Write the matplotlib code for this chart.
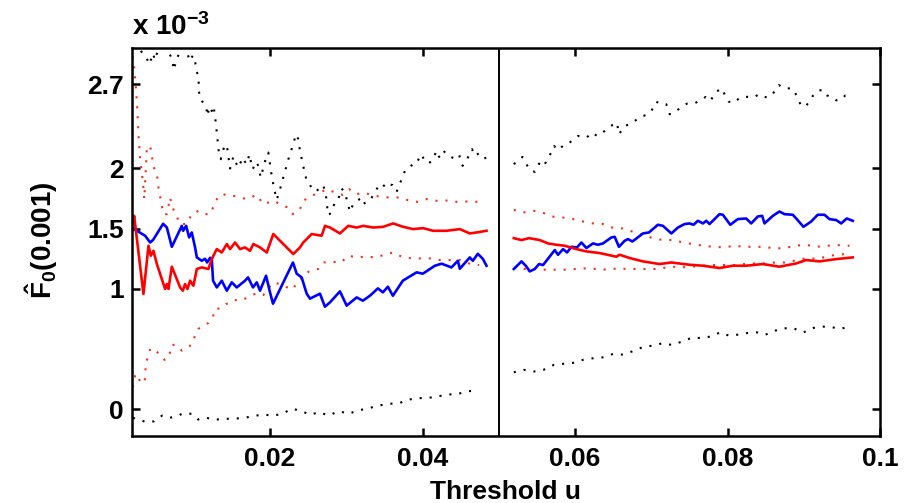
import numpy as np
import matplotlib
matplotlib.use("Agg")
import matplotlib.pyplot as plt

plt.rcParams["font.family"] = ["Liberation Sans", "DejaVu Sans"]
plt.rcParams["font.weight"] = "bold"
plt.rcParams["mathtext.fontset"] = "custom"
plt.rcParams["mathtext.rm"] = "Liberation Sans:bold"
plt.rcParams["mathtext.bf"] = "Liberation Sans:bold"
plt.rcParams["mathtext.it"] = "Liberation Sans:bold"

# all estimates are in units of 1e-3
# --- thresholds below 0.05 ---
blue_u_a = [0.00201, 0.00254, 0.00362, 0.00428, 0.00467, 0.00598, 0.00647, 0.00712, 0.00843, 0.0086,
            0.0090, 0.00939, 0.00974, 0.01017, 0.0104, 0.01105, 0.01148, 0.01175, 0.01214, 0.01236,
            0.01253, 0.01302, 0.01367, 0.01433, 0.01498, 0.01564, 0.01672, 0.01712, 0.01777, 0.01826,
            0.01869, 0.01948, 0.0200, 0.02039, 0.02301, 0.0235, 0.02415, 0.02481, 0.02524, 0.02655,
            0.0272, 0.02786, 0.02917, 0.03005, 0.03136, 0.03218, 0.0331, 0.03415, 0.0348, 0.03546,
            0.03611, 0.03742, 0.03922, 0.04004, 0.04162, 0.0425, 0.0438, 0.04463, 0.04489, 0.0462,
            0.0466, 0.04725, 0.0479, 0.04839]
blue_f_a = [1.510, 1.483, 1.442, 1.386, 1.408, 1.541, 1.510, 1.350, 1.524, 1.483,
            1.524, 1.428, 1.469, 1.345, 1.262, 1.234, 1.251, 1.220, 1.259, 1.251,
            1.069, 1.013, 1.069, 0.986, 1.055, 1.013, 1.069, 1.096, 1.013, 1.055,
            0.986, 1.110, 0.972, 0.878, 1.220, 1.127, 1.096, 0.961, 0.920, 0.961,
            0.853, 0.889, 0.980, 0.862, 0.930, 0.903, 0.944, 1.005, 0.972, 1.019,
            0.944, 1.069, 1.138, 1.127, 1.193, 1.210, 1.179, 1.234, 1.168, 1.262,
            1.234, 1.292, 1.251, 1.193]

red_u_a = [0.0020, 0.00218, 0.0034, 0.00406, 0.00437, 0.00471, 0.00516, 0.00624, 0.00647, 0.00668,
           0.00712, 0.00821, 0.00856, 0.00886, 0.00917, 0.00952, 0.00995, 0.0104, 0.01105, 0.01192,
           0.01236, 0.01279, 0.01302, 0.01367, 0.01433, 0.01476, 0.01541, 0.01607, 0.01672, 0.01738,
           0.01781, 0.01869, 0.01957, 0.02043, 0.02305, 0.02393, 0.02436, 0.02546, 0.02677, 0.02721,
           0.02786, 0.02917, 0.03026, 0.03136, 0.03222, 0.03353, 0.03484, 0.03615, 0.03746, 0.03877,
           0.04008, 0.04139, 0.04315, 0.04489, 0.0462, 0.04708, 0.04839]
red_f_a = [1.539, 1.607, 0.959, 1.359, 1.276, 1.317, 1.207, 1.0, 1.041, 1.0,
           1.185, 1.013, 0.986, 1.041, 1.0, 1.069, 1.027, 1.166, 1.179, 1.166,
           1.248, 1.303, 1.331, 1.303, 1.373, 1.331, 1.386, 1.331, 1.345, 1.317,
           1.373, 1.345, 1.303, 1.456, 1.29, 1.345, 1.386, 1.456, 1.442, 1.524,
           1.51, 1.461, 1.524, 1.51, 1.524, 1.51, 1.516, 1.544, 1.516, 1.497,
           1.505, 1.483, 1.483, 1.497, 1.461, 1.469, 1.483]

redhi_u_a = [0.0020, 0.00212, 0.00234, 0.00256, 0.00277, 0.00299, 0.00334, 0.00351, 0.00385, 0.00428,
             0.00451, 0.00471, 0.00516, 0.00537, 0.00602, 0.00647, 0.0069, 0.00712, 0.00821, 0.00908,
             0.00974, 0.01061, 0.01148, 0.01214, 0.01323, 0.01433, 0.01519, 0.01695, 0.01826, 0.01912,
             0.02043, 0.02231, 0.02297, 0.02393, 0.02436, 0.02546, 0.02751, 0.02852, 0.02953, 0.0304,
             0.03136, 0.03232, 0.03333, 0.03451, 0.03563, 0.03681, 0.03812, 0.03935, 0.04053, 0.04175,
             0.04284, 0.04424, 0.04546, 0.04668, 0.04799]
redhi_f_a = [2.93, 2.864, 2.726, 2.533, 2.256, 2.063, 1.883, 1.746, 2.173, 2.187,
             2.104, 2.016, 1.953, 1.842, 1.621, 1.621, 1.759, 1.69, 1.539, 1.539,
             1.621, 1.649, 1.621, 1.621, 1.773, 1.787, 1.773, 1.746, 1.781, 1.704,
             1.732, 1.676, 1.621, 1.663, 1.732, 1.773, 1.828, 1.8, 1.781, 1.828,
             1.787, 1.8, 1.779, 1.765, 1.759, 1.759, 1.737, 1.723, 1.746, 1.732,
             1.737, 1.723, 1.726, 1.726, 1.718]

redlo_u_a = [0.0020, 0.00234, 0.00321, 0.00362, 0.00371, 0.00406, 0.00428, 0.0048, 0.00537, 0.00615,
             0.00681, 0.00699, 0.00751, 0.00843, 0.00908, 0.00974, 0.01017, 0.01061, 0.01126, 0.01192,
             0.01249, 0.01279, 0.01354, 0.01424, 0.01498, 0.01572, 0.01663, 0.01729, 0.01817, 0.01912,
             0.01978, 0.02043, 0.02153, 0.02284, 0.0235, 0.02436, 0.02524, 0.02633, 0.02698, 0.02808,
             0.0293, 0.03026, 0.03149, 0.03258, 0.03376, 0.03494, 0.03615, 0.03746, 0.0387, 0.03987,
             0.04118, 0.04227, 0.04358, 0.04498, 0.04629, 0.04742]
redlo_f_a = [0.185, 0.296, 0.213, 0.254, 0.384, 0.447, 0.503, 0.503, 0.466, 0.412,
             0.439, 0.53, 0.539, 0.489, 0.511, 0.539, 0.613, 0.669, 0.696, 0.718,
             0.765, 0.834, 0.839, 0.876, 0.884, 0.917, 0.917, 0.936, 0.964, 0.950,
             1.005, 1.055, 1.036, 0.994, 1.041, 1.110, 1.152, 1.166, 1.220, 1.226,
             1.220, 1.276, 1.262, 1.270, 1.262, 1.282, 1.303, 1.262, 1.254, 1.254,
             1.254, 1.240, 1.240, 1.240, 1.207, 1.199]

blkhi_u_a = [0.0020, 0.0025, 0.00297, 0.00385, 0.00419, 0.00463, 0.00493, 0.0058, 0.00725, 0.00733,
             0.00778, 0.0086, 0.00952, 0.00987, 0.01017, 0.01031, 0.01061, 0.01066, 0.01074, 0.01105,
             0.01135, 0.01162, 0.01179, 0.01205, 0.01236, 0.01257, 0.01279, 0.01293, 0.0131, 0.01323,
             0.01336, 0.01354, 0.01401, 0.01433, 0.01454, 0.01476, 0.01519, 0.01555, 0.01585, 0.01642,
             0.01672, 0.01695, 0.01729, 0.01747, 0.01773, 0.01817, 0.01847, 0.01878, 0.01912, 0.01948,
             0.01978, 0.0200, 0.02022, 0.02043, 0.02066, 0.02088, 0.02131, 0.02174, 0.0221, 0.02253,
             0.02297, 0.02341, 0.02371, 0.02393, 0.02415, 0.02445, 0.02481, 0.02524, 0.02559, 0.02603,
             0.02646, 0.02698, 0.02734, 0.02751, 0.02764, 0.02808, 0.02852, 0.02895, 0.02939, 0.02983,
             0.03013, 0.03048, 0.03091, 0.03144, 0.03188, 0.03214, 0.03258, 0.0331, 0.03353, 0.03419,
             0.03463, 0.0352, 0.03563, 0.03607, 0.0366, 0.03712, 0.03769, 0.03821, 0.0387, 0.03922,
             0.03978, 0.04021, 0.04074, 0.04126, 0.04184, 0.04218, 0.0427, 0.04323, 0.04371, 0.04424,
             0.0448, 0.04525, 0.0459, 0.0465, 0.04686, 0.04742, 0.04795, 0.04839]
blkhi_f_a = [3.30, 3.12, 2.983, 2.911, 2.864, 2.955, 2.90, 3.10, 2.891, 2.817,
             2.906, 3.05, 2.891, 2.939, 2.90, 2.809, 2.773, 2.684, 2.587, 2.56,
             2.541, 2.513, 2.436, 2.513, 2.477, 2.519, 2.442, 2.347, 2.256, 2.160,
             2.118, 2.077, 2.187, 2.196, 2.099, 1.999, 2.099, 2.044, 2.007, 2.090,
             2.055, 2.036, 2.118, 2.063, 1.994, 2.055, 2.022, 1.925, 2.007, 2.090,
             2.132, 2.036, 1.939, 1.870, 1.800, 1.740, 1.828, 1.925, 2.007, 2.104,
             2.187, 2.284, 2.243, 2.146, 2.082, 1.994, 1.897, 1.862, 1.828, 1.809,
             1.834, 1.862, 1.773, 1.676, 1.613, 1.635, 1.726, 1.746, 1.834, 1.800,
             1.726, 1.640, 1.704, 1.732, 1.751, 1.704, 1.718, 1.732, 1.779, 1.850,
             1.875, 1.842, 1.870, 1.862, 1.806, 1.889, 1.980, 1.999, 2.036, 2.041,
             2.118, 2.077, 2.041, 2.063, 2.146, 2.096, 2.152, 2.110, 2.096, 2.082,
             2.113, 2.022, 2.085, 2.160, 2.104, 2.127, 2.118, 2.069]

blklo_u_a = [0.00203, 0.00281, 0.00378, 0.00474, 0.00588, 0.00684, 0.00763, 0.00868, 0.00969, 0.01055,
             0.01166, 0.01279, 0.01397, 0.01519, 0.01663, 0.01781, 0.01912, 0.02035, 0.02157, 0.02288,
             0.02406, 0.02524, 0.02646, 0.02764, 0.02908, 0.03026, 0.03157, 0.03297, 0.03428, 0.03559,
             0.0369, 0.03826, 0.03953, 0.04084, 0.04206, 0.04337, 0.04468, 0.04599, 0.04722]
blklo_f_a = [-0.069, -0.085, -0.105, -0.099, -0.050, -0.069, -0.058, -0.031, -0.036, -0.083,
             -0.069, -0.085, -0.077, -0.077, -0.069, -0.055, -0.041, -0.052, -0.036, 0.006,
             -0.011, -0.044, -0.022, -0.050, -0.014, -0.036, -0.008, 0.011, 0.033, 0.047,
             0.052, 0.083, 0.094, 0.097, 0.110, 0.124, 0.130, 0.152, 0.157]

# --- thresholds above 0.05 ---
blue_u_b = [0.05197, 0.05298, 0.05354, 0.05406, 0.05472, 0.05528, 0.05581, 0.05734, 0.05777, 0.05843,
            0.05895, 0.05953, 0.06026, 0.06084, 0.06149, 0.06236, 0.06301, 0.06367, 0.06477, 0.0652,
            0.06576, 0.06651, 0.06694, 0.06752, 0.06804, 0.06891, 0.06969, 0.07087, 0.07153, 0.07263,
            0.0735, 0.07437, 0.07502, 0.07555, 0.07611, 0.07677, 0.07721, 0.07764, 0.07895, 0.07939,
            0.08036, 0.08135, 0.08245, 0.0831, 0.08397, 0.08455, 0.08485, 0.08594, 0.08681, 0.08747,
            0.08856, 0.08908, 0.08996, 0.09097, 0.09183, 0.09271, 0.09337, 0.09425, 0.0949, 0.09564,
            0.09642]
blue_f_b = [1.166, 1.229, 1.193, 1.146, 1.166, 1.207, 1.199, 1.323, 1.284, 1.331,
            1.303, 1.350, 1.345, 1.386, 1.340, 1.378, 1.367, 1.378, 1.428, 1.433,
            1.350, 1.400, 1.414, 1.394, 1.419, 1.461, 1.469, 1.533, 1.524, 1.461,
            1.510, 1.539, 1.544, 1.533, 1.566, 1.544, 1.566, 1.539, 1.621, 1.616,
            1.533, 1.580, 1.585, 1.544, 1.602, 1.607, 1.544, 1.607, 1.643, 1.621,
            1.616, 1.580, 1.516, 1.560, 1.616, 1.616, 1.580, 1.572, 1.544, 1.585,
            1.566]

red_u_b = [0.05197, 0.05298, 0.05397, 0.05537, 0.05646, 0.05756, 0.05865, 0.06018, 0.06149, 0.06323,
           0.06542, 0.06585, 0.06716, 0.06891, 0.07109, 0.07263, 0.07502, 0.07677, 0.07895, 0.0807,
           0.08245, 0.08463, 0.08681, 0.089, 0.09031, 0.09206, 0.09425, 0.09642]
red_f_b = [1.422, 1.406, 1.422, 1.406, 1.378, 1.367, 1.359, 1.331, 1.312, 1.298,
           1.268, 1.284, 1.257, 1.229, 1.207, 1.220, 1.201, 1.193, 1.174, 1.193,
           1.193, 1.207, 1.185, 1.212, 1.240, 1.229, 1.248, 1.262]

redhi_u_b = [0.05197, 0.05319, 0.05459, 0.0559, 0.05721, 0.05843, 0.05974, 0.06105, 0.06236, 0.06367,
             0.06507, 0.06629, 0.0676, 0.06891, 0.07022, 0.07153, 0.07284, 0.07415, 0.07546, 0.07677,
             0.07817, 0.07952, 0.08092, 0.08223, 0.08354, 0.08485, 0.08616, 0.08756, 0.08891, 0.09031,
             0.09162, 0.09307, 0.09446, 0.09599]
redhi_f_b = [1.657, 1.635, 1.649, 1.630, 1.599, 1.593, 1.580, 1.560, 1.544, 1.539,
             1.505, 1.502, 1.475, 1.447, 1.422, 1.406, 1.406, 1.386, 1.373, 1.359,
             1.350, 1.345, 1.359, 1.350, 1.350, 1.350, 1.336, 1.340, 1.359, 1.367,
             1.350, 1.359, 1.364, 1.359]

redlo_u_b = [0.05197, 0.05319, 0.05472, 0.05603, 0.05734, 0.05865, 0.06009, 0.0614, 0.0628, 0.06419,
             0.06555, 0.06694, 0.06825, 0.06969, 0.07109, 0.07241, 0.07385, 0.07525, 0.07664, 0.07808,
             0.07939, 0.08092, 0.08223, 0.08354, 0.08485, 0.08625, 0.08769, 0.08908, 0.09052, 0.09183,
             0.09328, 0.09468, 0.09612]
redlo_f_b = [1.179, 1.166, 1.166, 1.160, 1.160, 1.160, 1.166, 1.171, 1.166, 1.160,
             1.171, 1.166, 1.166, 1.166, 1.166, 1.187, 1.179, 1.185, 1.193, 1.199,
             1.199, 1.199, 1.207, 1.212, 1.212, 1.220, 1.220, 1.240, 1.257, 1.248,
             1.276, 1.284, 1.298]

blkhi_u_b = [0.05197, 0.05311, 0.05363, 0.05406, 0.05472, 0.05528, 0.05581, 0.05659, 0.05725, 0.05777,
             0.05865, 0.0593, 0.06039, 0.06149, 0.06228, 0.06288, 0.06359, 0.06419, 0.0649, 0.0655,
             0.06576, 0.06651, 0.06716, 0.06782, 0.06857, 0.06935, 0.07001, 0.07066, 0.07132, 0.07197,
             0.07241, 0.07328, 0.07394, 0.07467, 0.07568, 0.07643, 0.07712, 0.07773, 0.07852, 0.07926,
             0.07961, 0.08017, 0.08092, 0.08158, 0.08223, 0.08288, 0.08354, 0.0841, 0.08463, 0.0852,
             0.08603, 0.08673, 0.08725, 0.08803, 0.08865, 0.08921, 0.08966, 0.09031, 0.09118, 0.09196,
             0.09258, 0.09301, 0.09359, 0.09425, 0.09477, 0.09546, 0.09621]
blkhi_f_b = [2.036, 2.096, 2.036, 1.986, 1.972, 2.041, 2.013, 2.096, 2.187, 2.152,
             2.201, 2.215, 2.270, 2.256, 2.297, 2.270, 2.297, 2.326, 2.361, 2.380,
             2.284, 2.353, 2.367, 2.394, 2.428, 2.444, 2.477, 2.554, 2.533, 2.533,
             2.450, 2.477, 2.510, 2.538, 2.541, 2.566, 2.593, 2.560, 2.637, 2.665,
             2.616, 2.554, 2.546, 2.587, 2.596, 2.593, 2.593, 2.616, 2.602, 2.587,
             2.629, 2.693, 2.670, 2.665, 2.657, 2.582, 2.519, 2.519, 2.602, 2.649,
             2.649, 2.607, 2.596, 2.566, 2.566, 2.607, 2.607]

blklo_u_b = [0.05197, 0.05328, 0.05463, 0.05594, 0.05721, 0.05843, 0.05974, 0.06105, 0.06236, 0.06367,
             0.06498, 0.06621, 0.06746, 0.06883, 0.07014, 0.07145, 0.07271, 0.07402, 0.07525, 0.07656,
             0.07777, 0.07905, 0.08017, 0.08135, 0.08266, 0.08384, 0.08498, 0.08629, 0.08747, 0.08865,
             0.08996, 0.09127, 0.09249, 0.09372, 0.0949, 0.09621]
blklo_f_b = [0.309, 0.329, 0.315, 0.331, 0.370, 0.379, 0.387, 0.412, 0.425, 0.433,
             0.461, 0.456, 0.481, 0.516, 0.530, 0.549, 0.536, 0.563, 0.594, 0.594,
             0.605, 0.640, 0.613, 0.621, 0.635, 0.640, 0.621, 0.655, 0.674, 0.674,
             0.640, 0.677, 0.688, 0.682, 0.669, 0.696]

split_u = 0.05
xticks = [0.02, 0.04, 0.06, 0.08, 0.1]
xticklabels = ["0.02", "0.04", "0.06", "0.08", "0.1"]
yticks = [0, 1, 1.5, 2, 2.7]
yticklabels = ["0", "1", "1.5", "2", "2.7"]

RED_DOT = "#f2301a"
dot = dict(lw=1.5, ls=(0, (1, 3.8)))

fig = plt.figure(figsize=(9.11, 5.03), dpi=100)
ax = fig.add_axes([0.1449, 0.1332, 0.8211, 0.7714])

for part in ("a", "b"):
    g = globals()
    ax.plot(g["blkhi_u_" + part], g["blkhi_f_" + part], color="k", **dot)
    ax.plot(g["blklo_u_" + part], g["blklo_f_" + part], color="k", **dot)
    ax.plot(g["redhi_u_" + part], g["redhi_f_" + part], color=RED_DOT, **dot)
    ax.plot(g["redlo_u_" + part], g["redlo_f_" + part], color=RED_DOT, **dot)
    ax.plot(g["blue_u_" + part], g["blue_f_" + part], color="#0000ff", lw=1.9)
    ax.plot(g["red_u_" + part], g["red_f_" + part], color="#ff0000", lw=1.9)

ax.axvline(split_u, color="k", lw=1.4)

ax.set_xlim(0.0019, 0.1)
ax.set_ylim(-0.22, 3.0)
ax.set_xticks(xticks)
ax.set_xticklabels(xticklabels)
ax.set_yticks(yticks)
ax.set_yticklabels(yticklabels)
ax.tick_params(direction="in", length=6, width=1.8, top=True, right=True,
               labelsize=19, pad=8)
ax.tick_params(axis="y", pad=6)
for sp in ax.spines.values():
    sp.set_linewidth(1.8)

fig.text(132 / 911, 1 - 35 / 503, r"x 10$^{-3}$", fontsize=20, fontweight="bold",
         ha="left", va="baseline")
fig.text(42 / 911, 1 - 240 / 503, r"$\hat{\mathrm{F}}_0(0.001)$", fontsize=20,
         rotation=90, ha="center", va="center")
fig.text(506 / 911, 1 - 499 / 503, "Threshold u", fontsize=19, fontweight="bold",
         ha="center", va="baseline")

fig.savefig("out.png", dpi=100)
